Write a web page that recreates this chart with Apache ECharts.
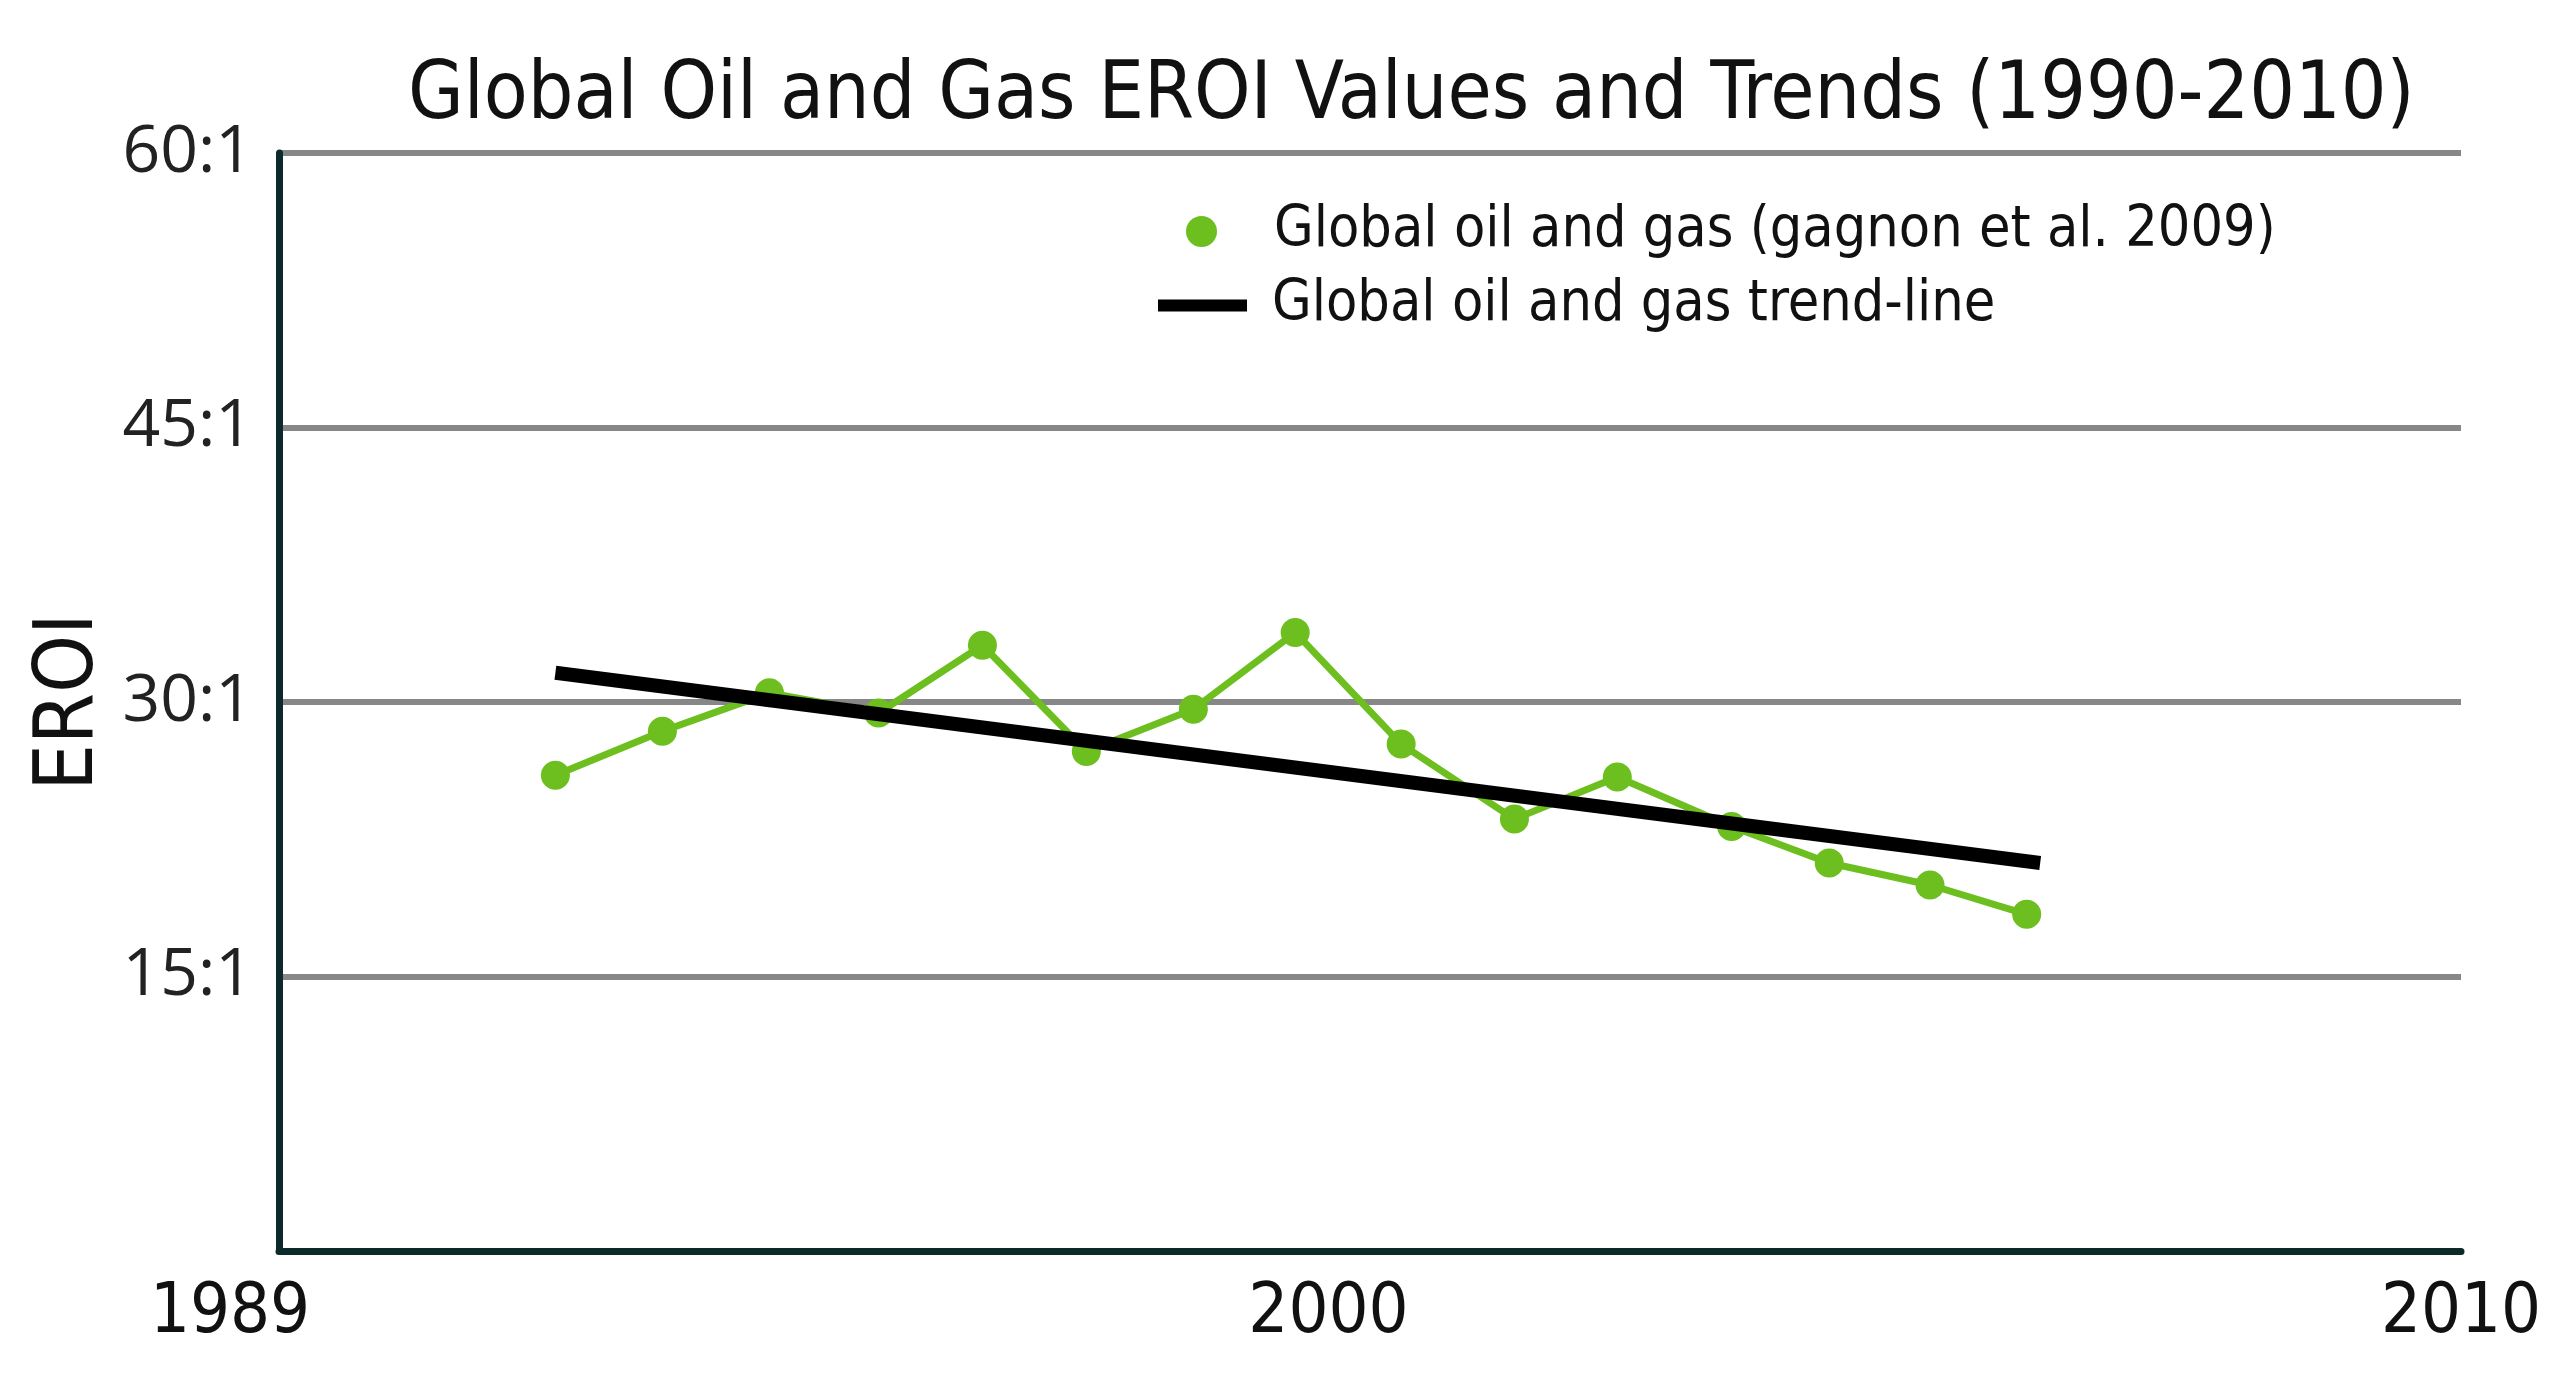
<!DOCTYPE html>
<html lang="en">
<head>
<meta charset="UTF-8">
<title>Global Oil and Gas EROI Values and Trends</title>
<script src="https://cdn.jsdelivr.net/npm/echarts@6/dist/echarts.min.js"></script>
<style>html,body{margin:0;background:#fff;}</style>
</head>
<body>
<div id="main" style="width:2572px;height:1384px;"></div>
<script type="text/javascript">
    // data (x = position on the hand-drawn 1989-2010 axis)
    var xPos = [1991.66, 1992.69, 1993.72, 1994.77, 1995.77, 1996.77, 1997.80, 1998.78,
        1999.80, 2000.89, 2001.88, 2002.98, 2003.92, 2004.89, 2005.82];
    var eroi = [26.0, 28.4, 30.5, 29.4, 33.1, 27.3, 29.6, 33.8, 27.7, 23.6, 25.9, 23.2, 21.2, 20.0, 18.4];
    var trendX = [1991.66, 2005.95];
    var trendValues = [31.6, 21.2];
    // tick labels, placed where the original puts them
    var xLabelValues = [1989, 1999.1, 2010];
    var xLabels = ['1989', '2000', '2010'];

    var narrow = "'DejaVu Sans Condensed', 'Liberation Sans Narrow', sans-serif";
    var green = '#6cbf1e';
    var axisDark = '#0d2a2a';

    var myChart = echarts.init(document.getElementById('main'));

    var option = {
        animation: false,
        backgroundColor: '#fff',
        title: {
            text: 'Global Oil and Gas EROI Values and Trends (1990-2010)',
            left: 403,
            top: 52,
            textStyle: { fontFamily: narrow, fontSize: 80, fontWeight: 'normal', color: '#111' }
        },
        legend: [{
            data: [{ name: 'Global oil and gas (gagnon et al. 2009)', icon: 'circle' }],
            left: 1181,
            top: 198,
            itemWidth: 89,
            itemHeight: 31,
            textStyle: { fontFamily: narrow, fontSize: 57, color: '#111', padding: [0, 0, 0, 23] }
        }, {
            data: [{ name: 'Global oil and gas trend-line', icon: 'rect' }],
            left: 1153,
            top: 272,
            itemWidth: 89,
            itemHeight: 12,
            textStyle: { fontFamily: narrow, fontSize: 57, color: '#111', padding: [0, 0, 0, 20] }
        }],
        grid: { left: 279, right: 111, top: 153, bottom: 133 },
        xAxis: {
            type: 'value',
            min: 1989,
            max: 2010,
            splitLine: { show: false },
            axisTick: { show: false },
            axisLine: { show: true, lineStyle: { color: axisDark, width: 7 } },
            axisLabel: {
                customValues: xLabelValues,
                margin: 28,
                fontFamily: narrow,
                fontSize: 70,
                color: '#111',
                formatter: function (v) {
                    var i = xLabelValues.indexOf(v);
                    if (i === 0) return '{first|' + xLabels[0] + '}';
                    return i >= 0 ? xLabels[i] : '';
                },
                rich: {
                    first: { fontFamily: narrow, fontSize: 70, color: '#111', padding: [0, 98, 0, 0] }
                }
            }
        },
        yAxis: {
            type: 'value',
            min: 0,
            max: 60,
            interval: 15,
            name: 'EROI',
            nameLocation: 'middle',
            nameGap: 160,
            nameRotate: 90,
            nameTextStyle: { fontFamily: narrow, fontSize: 82, color: '#111' },
            axisLine: { show: true, lineStyle: { color: axisDark, width: 7 } },
            axisTick: { show: false },
            splitLine: { lineStyle: { color: '#878787', width: 6 } },
            axisLabel: {
                margin: 26,
                fontFamily: "'Open Sans', sans-serif",
                fontSize: 66,
                color: '#222',
                formatter: function (v) { return v === 0 ? '' : v + ':1'; }
            }
        },
        series: [{
            name: 'Global oil and gas (gagnon et al. 2009)',
            type: 'line',
            data: xPos.map(function (x, i) { return [x, eroi[i]]; }),
            symbol: 'circle',
            symbolSize: 29,
            itemStyle: { color: green },
            lineStyle: { color: green, width: 7 },
            z: 2
        }, {
            name: 'Global oil and gas trend-line',
            type: 'line',
            data: trendX.map(function (x, i) { return [x, trendValues[i]]; }),
            showSymbol: false,
            symbol: 'none',
            itemStyle: { color: '#000' },
            lineStyle: { color: '#000', width: 14, cap: 'butt' },
            z: 3
        }]
    };
    myChart.setOption(option);
</script>
</body>
</html>
